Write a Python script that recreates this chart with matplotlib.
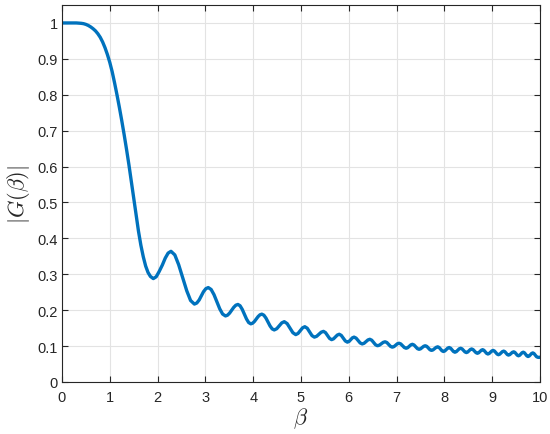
import matplotlib
matplotlib.use("Agg")
import matplotlib.pyplot as plt
from matplotlib.ticker import FormatStrFormatter

# Values (dense readings along the curve)
beta = [
    0.00, 0.20, 0.30, 0.40, 0.45, 0.50, 0.55, 0.60, 0.65, 0.70, 0.75, 0.80, 0.85,
    0.90, 0.95, 1.00, 1.05, 1.10, 1.15, 1.20, 1.25, 1.30, 1.35, 1.40, 1.45, 1.50,
    1.55, 1.60, 1.65, 1.70, 1.75, 1.80, 1.85, 1.91,
    1.97, 2.03, 2.10, 2.16, 2.22, 2.28,
    2.36, 2.44, 2.525, 2.61, 2.69, 2.77,
    2.82, 2.87, 2.915, 2.96, 3.01, 3.06,
    3.12, 3.18, 3.24, 3.30, 3.36, 3.42,
    3.463, 3.507, 3.55, 3.593, 3.637, 3.68,
    3.725, 3.77, 3.815, 3.86, 3.905, 3.95,
    3.988, 4.027, 4.065, 4.103, 4.142, 4.18,
    4.223, 4.267, 4.31, 4.353, 4.397, 4.44,
    4.4925, 4.545, 4.5975, 4.65, 4.71, 4.77, 4.83, 4.89,
    4.9375, 4.985, 5.0325, 5.08, 5.13, 5.18, 5.23, 5.28,
    5.3275, 5.375, 5.4225, 5.47, 5.5125, 5.555, 5.5975, 5.64,
    5.68, 5.72, 5.76, 5.80, 5.8425, 5.885, 5.9275, 5.97,
    6.005, 6.04, 6.075, 6.11, 6.1525, 6.195, 6.2375, 6.28,
    6.32, 6.36, 6.40, 6.44, 6.48, 6.52, 6.56, 6.60,
    6.64, 6.68, 6.72, 6.76, 6.7975, 6.835, 6.8725, 6.91,
    6.945, 6.98, 7.015, 7.05, 7.0875, 7.125, 7.1625, 7.20,
    7.2325, 7.265, 7.2975, 7.33, 7.365, 7.40, 7.435, 7.47,
    7.5025, 7.535, 7.5675, 7.60, 7.6325, 7.665, 7.6975, 7.73,
    7.7625, 7.795, 7.8275, 7.86, 7.89, 7.92, 7.95, 7.98,
    8.01, 8.04, 8.07, 8.10, 8.13, 8.16, 8.19, 8.22,
    8.25, 8.28, 8.31, 8.34, 8.37, 8.40, 8.43, 8.46,
    8.4875, 8.515, 8.5425, 8.57, 8.60, 8.63, 8.66, 8.69,
    8.7175, 8.745, 8.7725, 8.80, 8.8275, 8.855, 8.8825, 8.91,
    8.9375, 8.965, 8.9925, 9.02, 9.0475, 9.075, 9.1025, 9.13,
    9.1575, 9.185, 9.2125, 9.24, 9.265, 9.29, 9.315, 9.34,
    9.3675, 9.395, 9.4225, 9.45, 9.475, 9.50, 9.525, 9.55,
    9.575, 9.60, 9.625, 9.65, 9.675, 9.70, 9.725, 9.75,
    9.775, 9.80, 9.825, 9.85, 9.875, 9.90, 9.925, 9.95,
    9.975, 10.0]

G_abs = [
    1.000, 1.000, 1.000, 0.999, 0.998, 0.996, 0.993, 0.989, 0.984, 0.978, 0.970, 0.960, 0.947,
    0.931, 0.912, 0.890, 0.864, 0.833, 0.800, 0.765, 0.728, 0.689, 0.648, 0.605, 0.559, 0.512,
    0.465, 0.420, 0.381, 0.349, 0.323, 0.305, 0.294, 0.288,
    0.293, 0.307, 0.326, 0.345, 0.359, 0.364,
    0.354, 0.327, 0.291, 0.254, 0.227, 0.217,
    0.220, 0.2285, 0.240, 0.2515, 0.260, 0.263,
    0.2577, 0.2433, 0.2235, 0.2038, 0.1893, 0.184,
    0.1861, 0.192, 0.200, 0.208, 0.2139, 0.216,
    0.2124, 0.2025, 0.189, 0.1755, 0.1656, 0.162,
    0.1638, 0.1688, 0.1755, 0.1823, 0.1872, 0.189,
    0.1861, 0.178, 0.167, 0.156, 0.1479, 0.145,
    0.1484, 0.1565, 0.1646, 0.168, 0.1627, 0.150, 0.1373, 0.132,
    0.1352, 0.143, 0.1508, 0.154, 0.1498, 0.1395, 0.1292, 0.125,
    0.1273, 0.133, 0.1387, 0.141, 0.1376, 0.1295, 0.1214, 0.118,
    0.1202, 0.1255, 0.1308, 0.133, 0.1298, 0.122, 0.1142, 0.111,
    0.113, 0.118, 0.123, 0.125, 0.1222, 0.1155, 0.1088, 0.106,
    0.1079, 0.1125, 0.1171, 0.119, 0.1164, 0.110, 0.1036, 0.101,
    0.1026, 0.1065, 0.1104, 0.112, 0.1098, 0.1045, 0.0992, 0.097,
    0.0986, 0.1025, 0.1064, 0.108, 0.106, 0.101, 0.096, 0.094,
    0.0956, 0.0995, 0.1034, 0.105, 0.103, 0.098, 0.093, 0.091,
    0.0925, 0.096, 0.0995, 0.101, 0.0991, 0.0945, 0.0899, 0.088,
    0.0895, 0.093, 0.0965, 0.098, 0.0961, 0.0915, 0.0869, 0.085,
    0.0866, 0.0905, 0.0944, 0.096, 0.0941, 0.0895, 0.0849, 0.083,
    0.0846, 0.0885, 0.0924, 0.094, 0.0922, 0.088, 0.0838, 0.082,
    0.0835, 0.087, 0.0905, 0.092, 0.0902, 0.086, 0.0818, 0.080,
    0.0815, 0.085, 0.0885, 0.090, 0.0882, 0.084, 0.0798, 0.078,
    0.0795, 0.083, 0.0865, 0.088, 0.0862, 0.082, 0.0778, 0.076,
    0.0775, 0.081, 0.0845, 0.086, 0.0844, 0.0805, 0.0766, 0.075,
    0.0763, 0.0795, 0.0827, 0.084, 0.0824, 0.0785, 0.0746, 0.073,
    0.0745, 0.078, 0.0815, 0.083, 0.0812, 0.077, 0.0728, 0.071,
    0.0725, 0.076, 0.0795, 0.081, 0.0792, 0.075, 0.0708, 0.069,
    0.0685, 0.069]

x_ticks = [0, 1, 2, 3, 4, 5, 6, 7, 8, 9, 10]
y_ticks = [0, 0.1, 0.2, 0.3, 0.4, 0.5, 0.6, 0.7, 0.8, 0.9, 1.0]

plt.rcParams['mathtext.fontset'] = 'cm'
plt.rcParams['font.family'] = ['Liberation Sans', 'DejaVu Sans']

fig = plt.figure(figsize=(5.5, 4.35), dpi=100)
ax = fig.add_axes([62/550, 1 - 383/435, (540-62)/550, (383-6)/435])

ax.plot(beta, G_abs, color='#0072BD', linewidth=2.4,
        solid_joinstyle='round', solid_capstyle='round')

ax.set_xlim(0, 10)
ax.set_ylim(0, 1.05)
ax.set_xticks(x_ticks)
ax.set_yticks(y_ticks)
ax.yaxis.set_major_formatter(FormatStrFormatter('%g'))
ax.grid(True, color='#e3e3e3', linewidth=0.8)
ax.set_axisbelow(True)

edge = '#262626'
for s in ax.spines.values():
    s.set_color(edge)
    s.set_linewidth(0.8)
ax.tick_params(direction='in', length=4, width=0.8, colors=edge, labelsize=10.5,
               top=True, right=True, labelcolor=edge)
ax.tick_params(axis='x', pad=6)
ax.tick_params(axis='y', pad=3)

ax.set_xlabel(r'$\beta$', fontsize=16, color=edge, labelpad=1)
ax.set_ylabel(r'$|G(\beta)|$', fontsize=16, color=edge, labelpad=4)

fig.savefig('out.png', dpi=100)
